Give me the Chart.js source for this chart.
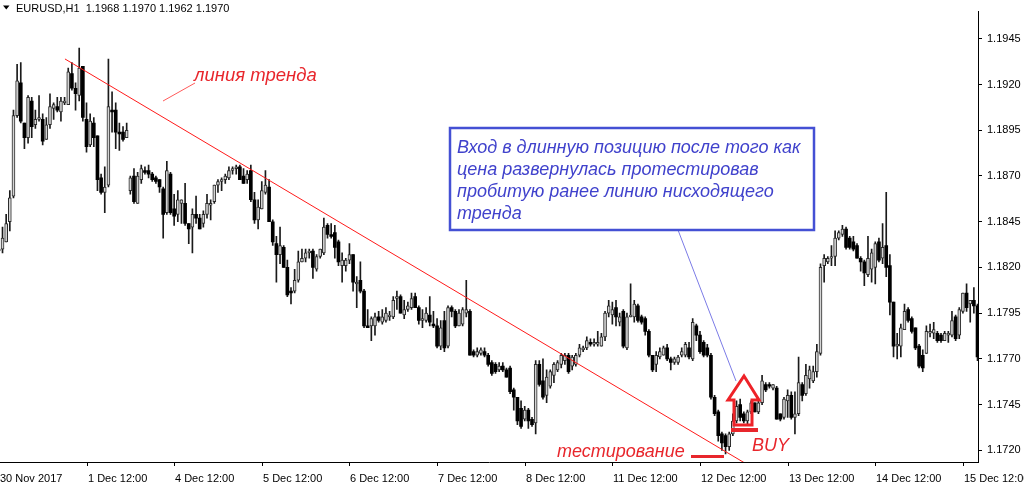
<!DOCTYPE html>
<html>
<head>
<meta charset="utf-8">
<script src="https://cdn.jsdelivr.net/npm/chart.js@4.4.1/dist/chart.umd.min.js"></script>
<style>
  html,body{margin:0;padding:0;background:#fff;overflow:hidden}
  #wrap{width:1024px;height:491px}
</style>
</head>
<body>
<div id="wrap"><canvas id="chart" width="1024" height="491"></canvas></div>
<script>
// EURUSD H1, 30 Nov 12:00 .. 15 Dec 2017, one value per hourly bar
const opens=[1.1829,1.1830,1.1834,1.1845,1.1859,1.1903,1.1921,1.1899,1.1891,1.1911,
1.1898,1.1901,1.1901,1.1890,1.1898,1.1907,1.1908,1.1905,1.1910,1.1909,
1.1926,1.1918,1.1914,1.1930,1.1901,1.1887,1.1899,1.1892,1.1869,1.1861,
1.1865,1.1906,1.1906,1.1894,1.1894,1.1891,1.1862,1.1870,1.1855,1.1868,
1.1873,1.1873,1.1871,1.1869,1.1868,1.1863,1.1850,1.1871,1.1852,1.1849,
1.1855,1.1855,1.1844,1.1842,1.1849,1.1847,1.1844,1.1849,1.1854,1.1856,
1.1865,1.1867,1.1868,1.1869,1.1873,1.1874,1.1875,1.1870,1.1868,1.1873,
1.1857,1.1846,1.1852,1.1861,1.1864,1.1845,1.1833,1.1827,1.1831,1.1820,
1.1807,1.1807,1.1813,1.1823,1.1825,1.1828,1.1829,1.1819,1.1826,1.1828,
1.1843,1.1838,1.1839,1.1834,1.1821,1.1821,1.1824,1.1827,1.1811,1.1813,
1.1807,1.1788,1.1788,1.1788,1.1793,1.1790,1.1791,1.1793,1.1793,1.1803,
1.1804,1.1794,1.1797,1.1798,1.1804,1.1798,1.1791,1.1791,1.1794,1.1789,
1.1788,1.1777,1.1791,1.1777,1.1798,1.1796,1.1788,1.1789,1.1795,1.1796,
1.1774,1.1772,1.1773,1.1774,1.1772,1.1768,1.1767,1.1764,1.1766,1.1764,
1.1765,1.1753,1.1749,1.1743,1.1737,1.1742,1.1737,1.1735,1.1767,1.1758,
1.1750,1.1755,1.1761,1.1764,1.1767,1.1769,1.1772,1.1766,1.1767,1.1772,
1.1775,1.1776,1.1779,1.1778,1.1778,1.1777,1.1782,1.1795,1.1794,1.1798,
1.1790,1.1796,1.1776,1.1793,1.1793,1.1799,1.1793,1.1792,1.1785,1.1772,
1.1767,1.1771,1.1772,1.1776,1.1770,1.1768,1.1768,1.1772,1.1772,1.1776,
1.1770,1.1788,1.1783,1.1779,1.1776,1.1772,1.1749,1.1741,1.1729,1.1728,
1.1722,1.1729,1.1736,1.1745,1.1740,1.1736,1.1741,1.1746,1.1741,1.1746,
1.1756,1.1756,1.1754,1.1754,1.1740,1.1738,1.1747,1.1750,1.1738,1.1740,
1.1756,1.1751,1.1759,1.1758,1.1763,1.1773,1.1821,1.1823,1.1825,1.1826,
1.1836,1.1838,1.1841,1.1836,1.1834,1.1832,1.1825,1.1823,1.1816,1.1819,
1.1820,1.1834,1.1825,1.1832,1.1821,1.1801,1.1777,1.1777,1.1786,1.1797,
1.1792,1.1787,1.1777,1.1772,1.1773,1.1784,1.1784,1.1784,1.1783,1.1780,
1.1783,1.1783,1.1793,1.1783,1.1796,1.1806,1.1800,1.1802,1.1799];
const highs=[1.1832,1.1842,1.1849,1.1862,1.1906,1.1931,1.1932,1.1899,1.1914,1.1913,
1.1906,1.1914,1.1904,1.1902,1.1915,1.1910,1.1913,1.1913,1.1913,1.1929,
1.1932,1.1921,1.1940,1.1930,1.1910,1.1904,1.1902,1.1892,1.1871,1.1875,
1.1934,1.1916,1.1910,1.1899,1.1897,1.1899,1.1870,1.1874,1.1872,1.1876,
1.1875,1.1876,1.1872,1.1870,1.1868,1.1864,1.1878,1.1872,1.1860,1.1862,
1.1857,1.1866,1.1844,1.1852,1.1859,1.1849,1.1851,1.1860,1.1857,1.1865,
1.1868,1.1869,1.1871,1.1875,1.1875,1.1876,1.1876,1.1874,1.1873,1.1876,
1.1861,1.1857,1.1867,1.1873,1.1868,1.1846,1.1837,1.1842,1.1832,1.1824,
1.1809,1.1819,1.1829,1.1830,1.1830,1.1830,1.1830,1.1827,1.1830,1.1847,
1.1844,1.1844,1.1843,1.1835,1.1828,1.1825,1.1833,1.1827,1.1815,1.1823,
1.1808,1.1797,1.1793,1.1795,1.1796,1.1797,1.1798,1.1796,1.1804,1.1807,
1.1805,1.1802,1.1801,1.1806,1.1806,1.1799,1.1797,1.1798,1.1804,1.1796,
1.1792,1.1791,1.1796,1.1799,1.1799,1.1797,1.1797,1.1798,1.1813,1.1797,
1.1775,1.1776,1.1776,1.1776,1.1773,1.1769,1.1768,1.1768,1.1768,1.1765,
1.1766,1.1754,1.1749,1.1747,1.1744,1.1743,1.1738,1.1769,1.1769,1.1770,
1.1764,1.1764,1.1768,1.1769,1.1773,1.1773,1.1773,1.1772,1.1773,1.1778,
1.1777,1.1782,1.1781,1.1781,1.1785,1.1784,1.1796,1.1802,1.1801,1.1802,
1.1795,1.1797,1.1795,1.1811,1.1802,1.1800,1.1794,1.1793,1.1786,1.1772,
1.1774,1.1776,1.1777,1.1778,1.1771,1.1771,1.1772,1.1776,1.1779,1.1779,
1.1792,1.1789,1.1785,1.1780,1.1778,1.1773,1.1750,1.1742,1.1730,1.1729,
1.1730,1.1740,1.1747,1.1748,1.1741,1.1742,1.1747,1.1746,1.1747,1.1761,
1.1757,1.1757,1.1756,1.1755,1.1740,1.1749,1.1753,1.1752,1.1752,1.1771,
1.1757,1.1767,1.1766,1.1766,1.1778,1.1822,1.1827,1.1826,1.1832,1.1840,
1.1840,1.1843,1.1842,1.1837,1.1837,1.1833,1.1826,1.1824,1.1837,1.1830,
1.1834,1.1836,1.1844,1.1861,1.1827,1.1801,1.1784,1.1789,1.1800,1.1798,
1.1793,1.1787,1.1778,1.1775,1.1788,1.1789,1.1790,1.1785,1.1784,1.1785,
1.1785,1.1796,1.1794,1.1798,1.1806,1.1811,1.1802,1.1809,1.1800];
const lows=[1.1828,1.1828,1.1834,1.1840,1.1858,1.1902,1.1899,1.1885,1.1888,1.1891,
1.1896,1.1900,1.1887,1.1890,1.1896,1.1901,1.1905,1.1900,1.1909,1.1909,
1.1917,1.1906,1.1911,1.1900,1.1883,1.1886,1.1886,1.1862,1.1860,1.1850,
1.1864,1.1894,1.1885,1.1884,1.1889,1.1891,1.1860,1.1855,1.1855,1.1866,
1.1871,1.1869,1.1867,1.1866,1.1861,1.1836,1.1849,1.1849,1.1843,1.1845,
1.1844,1.1843,1.1833,1.1828,1.1844,1.1841,1.1842,1.1847,1.1846,1.1855,
1.1861,1.1862,1.1866,1.1868,1.1871,1.1871,1.1868,1.1866,1.1866,1.1856,
1.1844,1.1841,1.1852,1.1860,1.1845,1.1832,1.1812,1.1822,1.1820,1.1804,
1.1800,1.1806,1.1812,1.1823,1.1823,1.1825,1.1814,1.1818,1.1825,1.1827,
1.1836,1.1836,1.1825,1.1821,1.1812,1.1818,1.1822,1.1807,1.1798,1.1806,
1.1787,1.1787,1.1780,1.1783,1.1790,1.1789,1.1790,1.1791,1.1792,1.1797,
1.1795,1.1792,1.1796,1.1797,1.1798,1.1789,1.1787,1.1790,1.1788,1.1787,
1.1776,1.1775,1.1774,1.1776,1.1793,1.1787,1.1788,1.1788,1.1793,1.1772,
1.1771,1.1771,1.1772,1.1771,1.1766,1.1761,1.1762,1.1763,1.1763,1.1760,
1.1751,1.1742,1.1734,1.1732,1.1736,1.1732,1.1733,1.1729,1.1755,1.1748,
1.1746,1.1754,1.1757,1.1763,1.1765,1.1767,1.1762,1.1764,1.1766,1.1771,
1.1774,1.1775,1.1777,1.1777,1.1777,1.1777,1.1780,1.1793,1.1789,1.1788,
1.1788,1.1776,1.1775,1.1793,1.1790,1.1790,1.1789,1.1783,1.1771,1.1763,
1.1763,1.1770,1.1772,1.1769,1.1764,1.1767,1.1767,1.1771,1.1771,1.1770,
1.1769,1.1780,1.1773,1.1771,1.1771,1.1748,1.1739,1.1725,1.1720,1.1718,
1.1720,1.1728,1.1735,1.1736,1.1735,1.1734,1.1740,1.1741,1.1740,1.1745,
1.1752,1.1754,1.1753,1.1737,1.1736,1.1737,1.1738,1.1737,1.1729,1.1739,
1.1747,1.1750,1.1754,1.1757,1.1760,1.1772,1.1812,1.1822,1.1821,1.1821,
1.1835,1.1837,1.1830,1.1830,1.1829,1.1825,1.1818,1.1810,1.1815,1.1812,
1.1811,1.1823,1.1822,1.1815,1.1794,1.1771,1.1770,1.1771,1.1786,1.1790,
1.1784,1.1775,1.1765,1.1763,1.1773,1.1782,1.1781,1.1779,1.1779,1.1780,
1.1779,1.1782,1.1780,1.1781,1.1795,1.1796,1.1790,1.1795,1.1769];
const closes=[1.1830,1.1836,1.1844,1.1858,1.1903,1.1922,1.1900,1.1891,1.1913,1.1897,
1.1901,1.1902,1.1889,1.1898,1.1908,1.1909,1.1906,1.1911,1.1911,1.1927,
1.1918,1.1915,1.1929,1.1902,1.1886,1.1900,1.1891,1.1868,1.1861,1.1864,
1.1908,1.1905,1.1894,1.1893,1.1890,1.1895,1.1869,1.1856,1.1870,1.1874,
1.1872,1.1871,1.1868,1.1867,1.1864,1.1849,1.1873,1.1850,1.1848,1.1857,
1.1857,1.1844,1.1841,1.1849,1.1847,1.1841,1.1849,1.1855,1.1855,1.1865,
1.1867,1.1868,1.1870,1.1873,1.1874,1.1875,1.1868,1.1866,1.1871,1.1857,
1.1846,1.1853,1.1862,1.1865,1.1845,1.1834,1.1827,1.1832,1.1820,1.1805,
1.1806,1.1813,1.1823,1.1825,1.1828,1.1829,1.1820,1.1826,1.1830,1.1842,
1.1838,1.1837,1.1831,1.1823,1.1824,1.1824,1.1827,1.1812,1.1812,1.1807,
1.1788,1.1787,1.1792,1.1793,1.1791,1.1793,1.1795,1.1794,1.1802,1.1804,
1.1795,1.1797,1.1799,1.1803,1.1798,1.1791,1.1792,1.1795,1.1790,1.1788,
1.1777,1.1787,1.1776,1.1798,1.1796,1.1788,1.1795,1.1797,1.1797,1.1772,
1.1772,1.1774,1.1775,1.1772,1.1767,1.1762,1.1763,1.1766,1.1764,1.1760,
1.1752,1.1749,1.1736,1.1733,1.1742,1.1736,1.1734,1.1767,1.1756,1.1749,
1.1760,1.1763,1.1767,1.1768,1.1772,1.1772,1.1763,1.1771,1.1772,1.1776,
1.1776,1.1780,1.1778,1.1779,1.1779,1.1782,1.1795,1.1799,1.1797,1.1793,
1.1793,1.1777,1.1793,1.1794,1.1800,1.1791,1.1790,1.1785,1.1772,1.1764,
1.1772,1.1774,1.1776,1.1770,1.1768,1.1770,1.1771,1.1774,1.1778,1.1771,
1.1790,1.1783,1.1774,1.1772,1.1772,1.1749,1.1740,1.1728,1.1724,1.1722,
1.1729,1.1736,1.1744,1.1738,1.1736,1.1741,1.1746,1.1741,1.1746,1.1758,
1.1753,1.1755,1.1756,1.1737,1.1737,1.1748,1.1750,1.1738,1.1740,1.1757,
1.1750,1.1761,1.1764,1.1763,1.1774,1.1820,1.1825,1.1825,1.1826,1.1836,
1.1839,1.1841,1.1831,1.1831,1.1830,1.1825,1.1823,1.1817,1.1825,1.1828,
1.1833,1.1824,1.1831,1.1820,1.1801,1.1777,1.1778,1.1787,1.1796,1.1791,
1.1785,1.1776,1.1766,1.1765,1.1785,1.1785,1.1786,1.1780,1.1780,1.1784,
1.1784,1.1791,1.1781,1.1797,1.1806,1.1798,1.1802,1.1799,1.1771];

// time axis: bar index of each label
const tickBars=[0,24,48,72,96,120,144,168,192,216,240,264];
const tickLabels=['30 Nov 2017','1 Dec 12:00','4 Dec 12:00','5 Dec 12:00','6 Dec 12:00','7 Dec 12:00',
  '8 Dec 12:00','11 Dec 12:00','12 Dec 12:00','13 Dec 12:00','14 Dec 12:00','15 Dec 12:00'];
const priceTicks=[1.1720,1.1745,1.1770,1.1795,1.1820,1.1845,1.1870,1.1895,1.1920,1.1945];
// descending trend line, two anchor points (bar, price)
const trendLine=[{x:18.1,y:1.1934},{x:204.3,y:1.1713}];

const boxLines=['Вход в длинную позицию после того как','цена развернулась протестировав',
  'пробитую ранее линию нисходящего','тренда'];

const idx=opens.map((_,i)=>i);
const wicks=idx.map(i=>({x:i,y:[lows[i],highs[i]]}));
const bodies=idx.map(i=>({x:i,y:[opens[i],closes[i]]}));
const isUp=i=>closes[i]>=opens[i];

const RED='#e8262c';
const SANS='"Liberation Sans", Arial, sans-serif';

function seg(ctx,x1,y1,x2,y2){ctx.beginPath();ctx.moveTo(x1,y1);ctx.lineTo(x2,y2);ctx.stroke();}

const notes={
  id:'notes',
  afterDraw(chart){
    const {ctx,chartArea:a,scales:{x}}=chart;
    ctx.save();
    // time labels
    ctx.fillStyle='#000';
    ctx.font='11px '+SANS;
    ctx.textBaseline='alphabetic';
    tickBars.forEach((b,k)=>{
      const px=Math.round(x.getPixelForValue(b));
      if(px>2) ctx.fillRect(px,a.bottom,1,4);
      ctx.fillText(tickLabels[k],Math.max(0,px+1),a.bottom+20);
    });
    // header
    ctx.beginPath();ctx.moveTo(3,5.5);ctx.lineTo(9.5,5.5);ctx.lineTo(6.25,9.5);ctx.closePath();ctx.fill();
    ctx.fillText('EURUSD,H1  1.1968 1.1970 1.1962 1.1970',16,12);

    // "линия тренда"
    ctx.strokeStyle='#ff5a5a';ctx.lineWidth=1;
    seg(ctx,163,101,195,83);
    ctx.fillStyle=RED;
    ctx.font='italic 18.5px '+SANS;
    ctx.fillText('линия тренда',194,81);

    // callout
    ctx.font='italic 18px '+SANS;
    ctx.strokeStyle='#7b7be6';ctx.lineWidth=1;
    seg(ctx,678,230,736,381);
    ctx.strokeStyle='#4450d4';ctx.lineWidth=2.5;
    ctx.strokeRect(450,128,364,102);
    ctx.fillStyle='#4042cc';
    boxLines.forEach((t,k)=>ctx.fillText(t,457,153+22*k));

    // test + buy marks
    ctx.fillStyle=RED;
    ctx.fillText('тестирование',557,457);
    ctx.fillRect(691,455,33,3);
    ctx.fillText('BUY',752,451);
    ctx.fillRect(731,428,27,4);
    ctx.strokeStyle='#ee2228';ctx.lineWidth=3;ctx.lineJoin='miter';
    ctx.beginPath();
    ctx.moveTo(744,376);ctx.lineTo(759,400);ctx.lineTo(752,400);ctx.lineTo(752,425);
    ctx.lineTo(734,425);ctx.lineTo(734,400);ctx.lineTo(728,400);ctx.closePath();
    ctx.stroke();
    ctx.restore();
  }
};

new Chart(document.getElementById('chart'),{
  type:'bar',
  data:{datasets:[
    {data:wicks,backgroundColor:'#1a1a1a',barThickness:1,grouped:false,order:2},
    {data:bodies,backgroundColor:c=>isUp(c.dataIndex)?'#d4d4d4':'#000',borderColor:'#2a2a2a',
     borderWidth:c=>isUp(c.dataIndex)?1:0,borderSkipped:false,barThickness:3,minBarLength:1,grouped:false,order:1},
    {type:'line',data:trendLine,borderColor:'#ff1a1a',borderWidth:1,pointRadius:0,order:0}
  ]},
  options:{
    responsive:false,animation:false,devicePixelRatio:1,
    layout:{padding:0},
    plugins:{legend:{display:false},tooltip:{enabled:false}},
    scales:{
      x:{type:'linear',min:0.312,max:268.13,offset:false,
         grid:{display:false},border:{display:true,color:'#000'},
         ticks:{display:false},afterFit:s=>{s.height=29;}},
      y:{position:'right',min:1.17136,max:1.19599,
         afterBuildTicks:s=>{s.ticks=priceTicks.map(v=>({value:v}));},
         grid:{drawOnChartArea:false,color:'#000',tickLength:4},
         border:{color:'#000'},
         ticks:{font:{family:'Liberation Sans',size:11},color:'#000',padding:5,callback:v=>v.toFixed(4)},
         afterFit:s=>{s.width=46;}}
    }
  },
  plugins:[notes]
});
</script>
</body>
</html>
